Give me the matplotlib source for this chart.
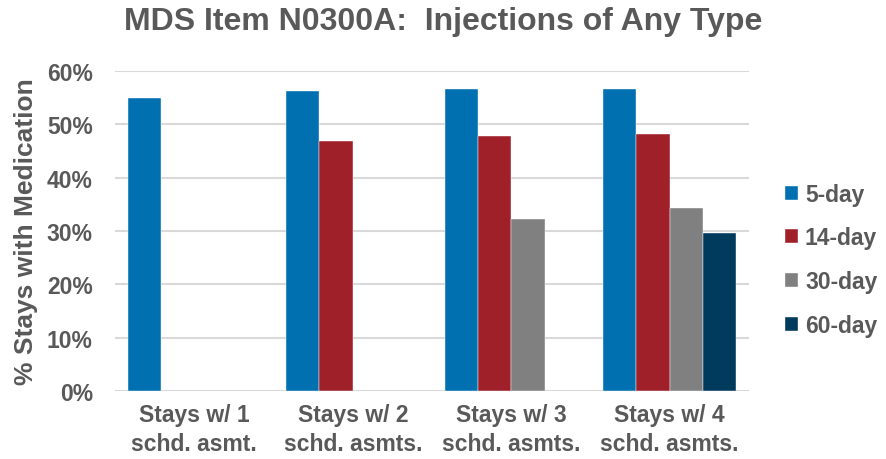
import numpy as np
import matplotlib.pyplot as plt
from matplotlib.ticker import PercentFormatter

# chart values
groups = ['Stays w/ 1\nschd. asmt.', 'Stays w/ 2\nschd. asmts.',
          'Stays w/ 3\nschd. asmts.', 'Stays w/ 4\nschd. asmts.']
series = ['5-day', '14-day', '30-day', '60-day']
day5 = [54.9, 56.3, 56.7, 56.6]
day14 = [np.nan, 46.9, 47.9, 48.2]
day30 = [np.nan, np.nan, 32.3, 34.4]
day60 = [np.nan, np.nan, np.nan, 29.6]
colors = ['#0070B0', '#A0202A', '#808080', '#003A5C']

plt.rcParams['font.family'] = ['Liberation Sans', 'DejaVu Sans']
plt.rcParams['font.weight'] = 'bold'
txtcol = '#595959'

fig = plt.figure(figsize=(8.86, 4.6), dpi=100)
ax = fig.add_axes([115/886, 1-392/460, 634/886, 320/460])

x = np.arange(len(groups))
w = 0.21
for i, (name, vals) in enumerate(zip(series, [day5, day14, day30, day60])):
    ax.bar(x + (i-1.5)*w, vals, w, color=colors[i], label=name, zorder=3,
           edgecolor='white', linewidth=0.3)

ax.set_xlim(-0.5, 3.5)
ax.set_ylim(0, 60)
ax.set_yticks(range(0, 61, 10))
ax.yaxis.set_major_formatter(PercentFormatter(decimals=0))
ax.grid(axis='y', color='#d9d9d9', linewidth=1.5, zorder=0)
ax.set_xticks(x)
ax.set_xticklabels(groups, fontsize=16.5, color=txtcol, fontweight='bold', linespacing=1.3)
for lab in ax.get_yticklabels():
    lab.set_fontsize(16.5)
    lab.set_color(txtcol)
    lab.set_fontweight('bold')
ax.tick_params(axis='y', length=0, pad=16)
ax.tick_params(axis='x', length=0, pad=9)
for s in ax.spines.values():
    s.set_visible(False)

ax.set_ylabel('% Stays with Medication', fontsize=19, color=txtcol, fontweight='bold', labelpad=6)
fig.text(0.5, 1-22/460, 'MDS Item N0300A:  Injections of Any Type', ha='center', va='center',
         fontsize=23, color=txtcol, fontweight='bold')

leg = ax.legend(loc='center left', bbox_to_anchor=(1.025, 0.41), frameon=False,
                fontsize=16.5, handlelength=0.55, handleheight=0.55, handletextpad=0.3,
                labelspacing=0.9)
for t in leg.get_texts():
    t.set_color(txtcol)

fig.savefig('out.png', dpi=100)
